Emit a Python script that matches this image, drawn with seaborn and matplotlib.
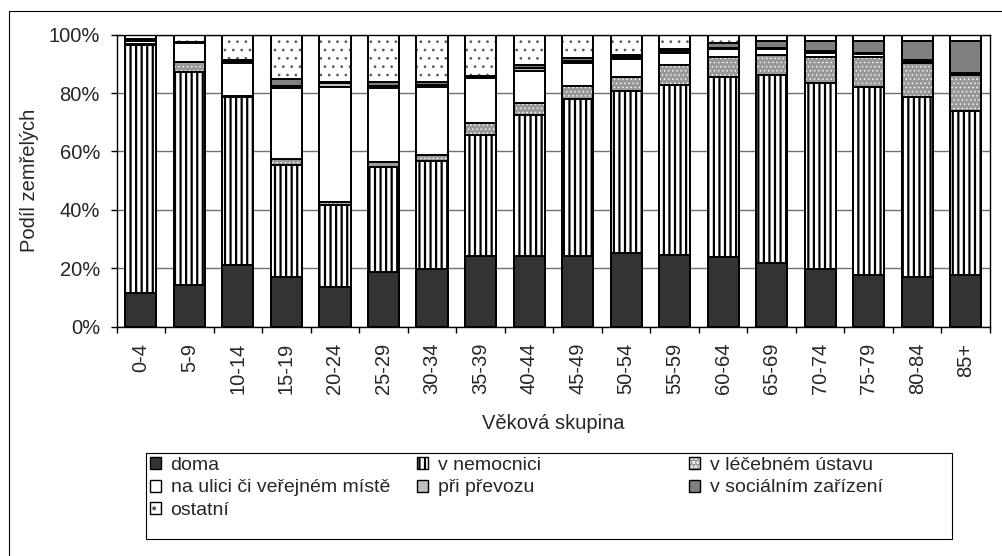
import matplotlib
matplotlib.use("Agg")
import matplotlib.pyplot as plt
import matplotlib.ticker as mtick
from matplotlib.patches import Patch, Rectangle
from matplotlib.legend_handler import HandlerTuple
import numpy as np
import seaborn as sns

# age groups and share of deaths by place (%)
groups = ["0-4", "5-9", "10-14", "15-19", "20-24", "25-29", "30-34", "35-39", "40-44",
          "45-49", "50-54", "55-59", "60-64", "65-69", "70-74", "75-79", "80-84", "85+"]
doma = [11.6, 14.3, 21.3, 17.1, 13.7, 18.8, 19.6, 24.3, 24.3,
        24.3, 25.1, 24.5, 24.0, 21.9, 19.6, 17.7, 17.1, 17.7]
nemocnice = [85.0, 73.0, 57.5, 38.3, 28.0, 36.0, 37.2, 41.3, 48.2,
             53.6, 55.7, 58.3, 61.6, 64.3, 64.0, 64.5, 61.7, 56.3]
lecebne = [0.3, 3.2, 0.3, 2.2, 1.1, 1.7, 2.0, 4.0, 4.0,
           4.6, 4.8, 6.8, 6.6, 6.8, 8.9, 10.3, 11.6, 12.2]
ulice = [1.0, 6.5, 11.1, 24.2, 39.4, 25.1, 23.4, 15.4, 11.2,
         7.9, 6.0, 4.0, 2.8, 2.0, 1.4, 0.8, 0.4, 0.3]
prevoz = [0.4, 0.3, 0.8, 0.6, 1.2, 1.0, 0.6, 0.4, 0.8,
          0.7, 0.6, 0.7, 0.4, 0.3, 0.5, 0.3, 0.5, 0.3]
socialni = [0.2, 0.3, 0.5, 2.3, 0.5, 1.1, 1.1, 0.4, 1.1,
            0.8, 0.8, 0.8, 1.9, 2.5, 3.5, 4.4, 6.6, 11.1]
ostatni = [1.5, 2.4, 8.5, 15.3, 16.1, 16.3, 16.1, 14.2, 10.4,
           8.1, 7.0, 4.9, 2.7, 2.2, 2.1, 2.0, 2.1, 2.1]

labels = ["doma", "v nemocnici", "v léčebném ústavu", "na ulici či veřejném místě",
          "při převozu", "v sociálním zařízení", "ostatní"]
series = [doma, nemocnice, lecebne, ulice, prevoz, socialni, ostatni]

# fill colour, hatch, hatch colour, hatch line width for each series
styles = [
    ("#333333", None, "black", 1.0),
    ("white", "|||", "black", 1.6),
    ("#999999", "....", "white", 0.5),
    ("white", None, "black", 1.0),
    ("#c0c0c0", None, "black", 1.0),
    ("#808080", None, "black", 1.0),
    ("white", "..", "#555555", 0.7),
]

sns.set_theme(style="white")
plt.rcParams["font.family"] = ["Liberation Sans", "DejaVu Sans"]
plt.rcParams["hatch.linewidth"] = 1.6


def style_patch(p, fc, hatch, hc, hlw):
    p.set_facecolor(fc)
    p.set_edgecolor(hc)
    p.set_linewidth(0)
    p.set_hatch(hatch)
    if hasattr(p, "set_hatch_linewidth"):
        p.set_hatch_linewidth(hlw)
    return p


fig, ax = plt.subplots(figsize=(10.03, 5.56), dpi=100)
fig.subplots_adjust(left=0.1163, right=0.987, bottom=0.4124, top=0.9376)

ax.yaxis.grid(True, color="#707070", lw=1)
ax.set_axisbelow(True)

cum = np.cumsum(np.array(series), axis=0)
bar_w = 0.64

# stacked bars: draw cumulative totals from the top layer down
for i in range(len(series) - 1, -1, -1):
    n0 = len(ax.patches)
    sns.barplot(x=groups, y=cum[i], color=styles[i][0], saturation=1, width=bar_w,
                errorbar=None, ax=ax)
    for p in ax.patches[n0:]:
        style_patch(p, *styles[i])
    sns.barplot(x=groups, y=cum[i], color="black", fill=False, width=bar_w,
                errorbar=None, linewidth=1.4, ax=ax)

ax.set_xlim(-0.5, len(groups) - 0.5)
ax.set_ylim(0, 100)
ax.set_yticks(np.arange(0, 101, 20))
ax.yaxis.set_major_formatter(mtick.PercentFormatter(decimals=0))
ax.set_xticks(np.arange(len(groups) + 1) - 0.5, minor=True)
ax.set_xticks(np.arange(len(groups)))
ax.set_xticklabels(groups, rotation=90)
ax.tick_params(axis="x", which="major", length=0, pad=11.5, labelsize=14.5)
ax.tick_params(axis="x", which="minor", bottom=True, length=4.5, width=1, color="black")
ax.tick_params(axis="y", left=True, length=4, width=1, color="black", pad=8, labelsize=14.5)

for s in ax.spines.values():
    s.set_color("black")
    s.set_linewidth(1)

ax.set_xlabel("Věková skupina", fontsize=14.5, va="top")
ax.xaxis.set_label_coords(0.5, -0.30)
ax.set_ylabel("Podíl zemřelých", fontsize=14.5)
ax.yaxis.set_label_coords(-0.0886, 0.5)


# legend in three columns, filled row by row like the original
def handle(i):
    return (style_patch(Patch(), *styles[i]),
            Patch(fill=False, edgecolor="black", linewidth=1))


cols = [[0, 3, 6], [1, 4], [2, 5]]
col_x = [150, 417, 689]
W, H = 1003, 556
for idx, x0 in zip(cols, col_x):
    fig.legend(handles=[handle(i) for i in idx], labels=[labels[i] for i in idx],
               loc="upper left", bbox_to_anchor=(x0 / W, 1 - 457 / H),
               frameon=False, borderpad=0, borderaxespad=0, fontsize=14,
               handlelength=0.57, handleheight=0.57, handletextpad=0.49,
               labelspacing=0.28, handler_map={tuple: HandlerTuple(ndivide=1)})

fig.add_artist(Rectangle((145.7 / W, 1 - 539 / H), (952 - 145.7) / W, (539 - 453) / H,
                         transform=fig.transFigure, fill=False, ec="black", lw=0.8))
# outer chart border
fig.add_artist(Rectangle((9 / W, -0.05), 1.1, 1.05 - 11 / H,
                         transform=fig.transFigure, fill=False, ec="black", lw=0.8))

plt.savefig("out.png", dpi=100)
